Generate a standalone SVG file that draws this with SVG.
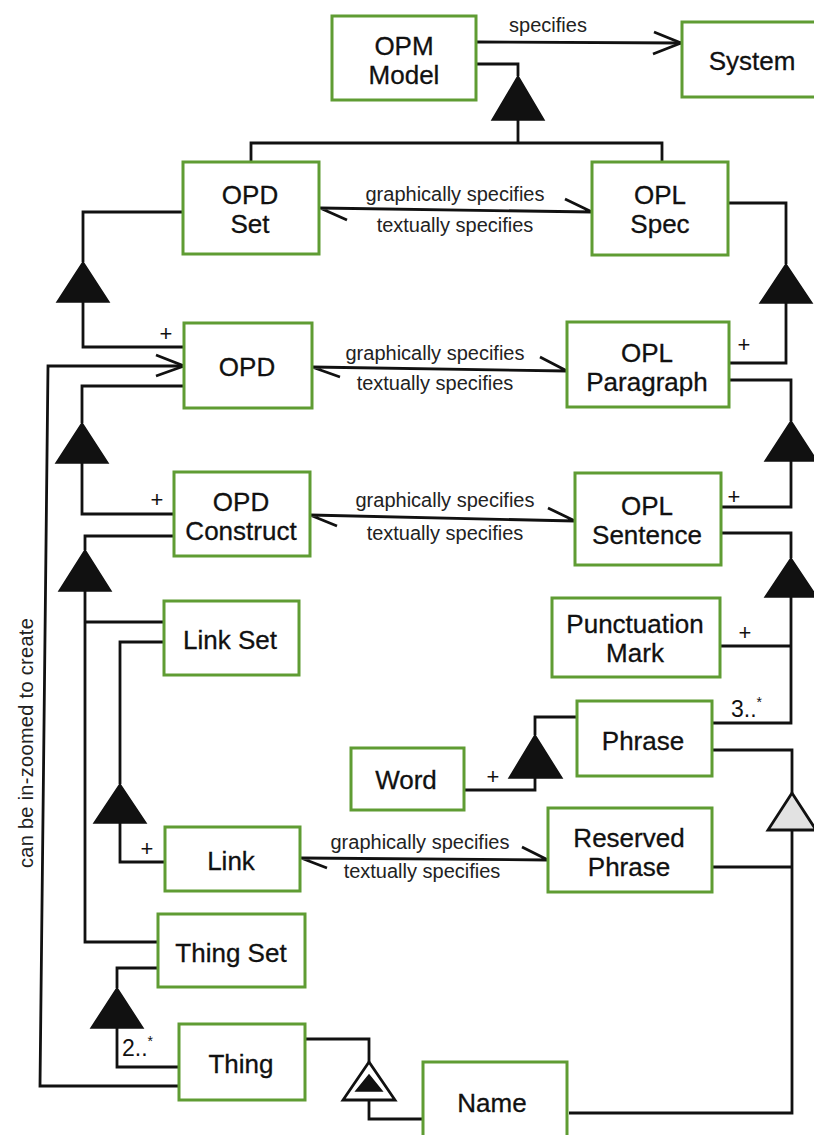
<svg xmlns="http://www.w3.org/2000/svg" width="814" height="1135" viewBox="0 0 814 1135">
<defs>
<style>
.box{fill:#fff;stroke:#5f9c33;stroke-width:3}
.lbl{font-family:"Liberation Sans",Arial,sans-serif;font-size:26px;fill:#111;stroke:#111;stroke-width:0.3;text-anchor:middle}
.el{font-family:"Liberation Sans",Arial,sans-serif;font-size:20px;fill:#222;text-anchor:middle}
.c{fill:none;stroke:#111;stroke-width:2.8;stroke-linejoin:miter}
.tri{fill:#111;stroke:#111;stroke-width:1.5}
.plus{font-family:"Liberation Sans",Arial,sans-serif;font-size:22px;fill:#111;text-anchor:middle}
.mult{font-family:"Liberation Sans",Arial,sans-serif;font-size:23px;fill:#111}
</style>
</defs>
<rect width="814" height="1135" fill="#fff"/>
<g id="connectors">
<path class="c" d="M477,42 L681,43"/>
<path class="c" d="M654,32 L681,43 L653,54"/>
<text class="el" x="548" y="32">specifies</text>
<path class="c" d="M476,64 L518,64 L518,76"/>
<polygon class="tri" points="518,76 492,120 544,120"/>
<path class="c" d="M518,120 L518,143 M251,162 L251,143 L662,143 L662,162"/>
<path class="c" d="M320,208 L592,212 M320,208 L347,220 M592,212 L565,199"/>
<text class="el" x="455" y="201">graphically specifies</text>
<text class="el" x="455" y="232">textually specifies</text>
<path class="c" d="M183,212 L83,212 L83,262"/>
<polygon class="tri" points="83,262 57,302 109,302"/>
<path class="c" d="M83,302 L83,347 L184,347"/>
<text class="plus" x="166" y="341">+</text>
<path class="c" d="M728,203 L786,203 L786,264"/>
<polygon class="tri" points="786,264 760,303 812,303"/>
<path class="c" d="M786,303 L786,363 L730,363"/>
<text class="plus" x="744" y="352">+</text>
<path class="c" d="M312,367 L567,371 M312,367 L340,377 M567,371 L540,357"/>
<text class="el" x="435" y="360">graphically specifies</text>
<text class="el" x="435" y="390">textually specifies</text>
<path class="c" d="M179,1086 L40,1086 L48,366 L184,366"/>
<path class="c" d="M156,355 L184,366 L156,376"/>
<text class="el" transform="translate(33,743) rotate(-90)" style="font-size:20px;letter-spacing:0.3px">can be in-zoomed to create</text>
<path class="c" d="M184,386 L82,386 L82,423"/>
<polygon class="tri" points="82,423 56,463 108,463"/>
<path class="c" d="M82,463 L82,514 L174,514"/>
<text class="plus" x="157" y="507">+</text>
<path class="c" d="M729,380 L791,380 L791,421"/>
<polygon class="tri" points="791,421 765,461 817,461"/>
<path class="c" d="M791,461 L791,507 L722,507"/>
<text class="plus" x="734" y="504">+</text>
<path class="c" d="M310,515 L575,521 M310,515 L337,526 M575,521 L548,508"/>
<text class="el" x="445" y="507">graphically specifies</text>
<text class="el" x="445" y="540">textually specifies</text>
<path class="c" d="M174,536 L85,536 L85,550"/>
<polygon class="tri" points="85,550 59,591 111,591"/>
<path class="c" d="M85,591 L85,942 L158,942 M85,622 L164,622"/>
<path class="c" d="M722,533 L791,533 L791,558"/>
<polygon class="tri" points="791,558 765,597 817,597"/>
<path class="c" d="M791,597 L791,723 L713,723 M720,646 L791,646"/>
<text class="plus" x="745" y="640">+</text>
<text class="mult" x="731" y="717">3..<tspan dy="-10" style="font-size:14px">*</tspan></text>
<path class="c" d="M164,642 L120,642 L120,784"/>
<polygon class="tri" points="120,784 94,823 146,823"/>
<path class="c" d="M120,823 L120,862 L165,862"/>
<text class="plus" x="147" y="856">+</text>
<path class="c" d="M577,717 L535,717 L535,735"/>
<polygon class="tri" points="535,735 509,778 562,778"/>
<path class="c" d="M535,778 L535,790 L464,790"/>
<text class="plus" x="493" y="784">+</text>
<path class="c" d="M712,750 L792,750 L792,793"/>
<polygon points="792,793 768,830 816,830" fill="#e2e2e2" stroke="#111" stroke-width="2.8"/>
<path class="c" d="M792,830 L792,1113 L569,1113 M712,867 L792,867"/>
<path class="c" d="M301,858 L548,860 M301,858 L327,868 M548,860 L522,847"/>
<text class="el" x="420" y="849">graphically specifies</text>
<text class="el" x="422" y="878">textually specifies</text>
<path class="c" d="M158,968 L117,968 L117,988"/>
<polygon class="tri" points="117,988 91,1028 143,1028"/>
<path class="c" d="M117,1028 L117,1067 L179,1067"/>
<text class="mult" x="122" y="1056">2..<tspan dy="-10" style="font-size:14px">*</tspan></text>
<path class="c" d="M305,1039 L369,1039 L369,1062"/>
<polygon points="369,1062 343,1100 395,1100" fill="#fff" stroke="#111" stroke-width="2.8"/>
<polygon class="tri" points="369,1075 356,1091 382,1091"/>
<path class="c" d="M369,1100 L369,1119 L423,1119"/>
</g>
<g id="opm-model"><rect class="box" x="332" y="16" width="144" height="84"/><text class="lbl" x="404" y="55">OPM</text><text class="lbl" x="404" y="84">Model</text></g>
<g id="system"><rect class="box" x="682" y="22" width="140" height="75"/><text class="lbl" x="752" y="70">System</text></g>
<g id="opd-set"><rect class="box" x="183" y="162" width="136" height="92"/><text class="lbl" x="250" y="204">OPD</text><text class="lbl" x="250" y="233">Set</text></g>
<g id="opl-spec"><rect class="box" x="592" y="162" width="136" height="93"/><text class="lbl" x="660" y="204">OPL</text><text class="lbl" x="660" y="233">Spec</text></g>
<g id="opd"><rect class="box" x="184" y="323" width="128" height="85"/><text class="lbl" x="247" y="376">OPD</text></g>
<g id="opl-paragraph"><rect class="box" x="567" y="322" width="162" height="85"/><text class="lbl" x="647" y="362">OPL</text><text class="lbl" x="647" y="391">Paragraph</text></g>
<g id="opd-construct"><rect class="box" x="174" y="472" width="136" height="84"/><text class="lbl" x="241" y="511">OPD</text><text class="lbl" x="241" y="540">Construct</text></g>
<g id="opl-sentence"><rect class="box" x="575" y="473" width="146" height="92"/><text class="lbl" x="647" y="515">OPL</text><text class="lbl" x="647" y="544">Sentence</text></g>
<g id="link-set"><rect class="box" x="164" y="601" width="135" height="74"/><text class="lbl" x="230" y="649">Link Set</text></g>
<g id="punctuation-mark"><rect class="box" x="552" y="598" width="168" height="79"/><text class="lbl" x="635" y="633">Punctuation</text><text class="lbl" x="635" y="662">Mark</text></g>
<g id="phrase"><rect class="box" x="577" y="701" width="135" height="75"/><text class="lbl" x="643" y="750">Phrase</text></g>
<g id="word"><rect class="box" x="351" y="748" width="113" height="62"/><text class="lbl" x="406" y="789">Word</text></g>
<g id="link"><rect class="box" x="165" y="827" width="135" height="64"/><text class="lbl" x="231" y="870">Link</text></g>
<g id="reserved-phrase"><rect class="box" x="548" y="808" width="164" height="84"/><text class="lbl" x="629" y="847">Reserved</text><text class="lbl" x="629" y="876">Phrase</text></g>
<g id="thing-set"><rect class="box" x="158" y="914" width="147" height="73"/><text class="lbl" x="231" y="962">Thing Set</text></g>
<g id="thing"><rect class="box" x="179" y="1024" width="126" height="76"/><text class="lbl" x="241" y="1073">Thing</text></g>
<g id="name"><rect class="box" x="423" y="1062" width="144" height="90"/><text class="lbl" x="492" y="1112">Name</text></g>
</svg>
